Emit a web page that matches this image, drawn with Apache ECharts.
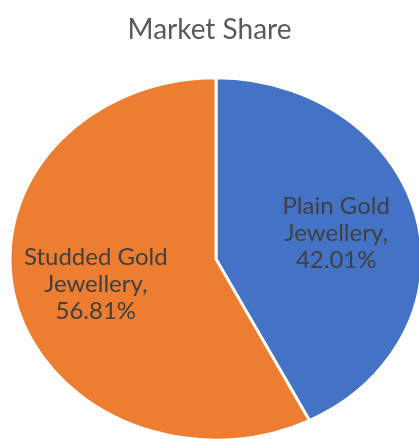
<!DOCTYPE html>
<html>
<head>
<meta charset="utf-8">
<script src="https://cdn.jsdelivr.net/npm/echarts@6/dist/echarts.min.js"></script>
<style>
  html, body { margin: 0; padding: 0; background: #ffffff; }
  #chart { width: 419px; height: 439px; }
</style>
</head>
<body>
<div id="chart"></div>
<script>
// Market share of gold jewellery segments (percent)
const categories = ['Plain Gold Jewellery', 'Studded Gold Jewellery'];
const labelNames = [['Plain Gold', 'Jewellery,'], ['Studded Gold', 'Jewellery,']];
const shares = [42.01, 56.81];
const sliceColors = ['#4472C4', '#ED7D31'];

const total = shares.reduce((a, b) => a + b, 0);

// Elliptical pie: drawn as a circle of radius RX squashed vertically to RY
const CX = 216, CY = 259, RX = 206, RY = 181;
const LABEL_FRACTION = 0.6;

function renderSlice(params, api) {
  const i = params.dataIndex;
  let before = 0;
  for (let k = 0; k < i; k++) before += shares[k];
  const v = api.value(0);
  const a0 = -Math.PI / 2 + (before / total) * Math.PI * 2;
  const a1 = a0 + (v / total) * Math.PI * 2;
  const mid = (a0 + a1) / 2;
  const lx = CX + Math.cos(mid) * RX * LABEL_FRACTION;
  const ly = CY + Math.sin(mid) * RY * LABEL_FRACTION;
  const text = labelNames[i].join('\n') + '\n' + v.toFixed(2) + '%';
  return {
    type: 'group',
    children: [
      {
        type: 'sector',
        shape: { cx: CX, cy: CY, r: RX, r0: 0, startAngle: a0, endAngle: a1, clockwise: true },
        originX: CX,
        originY: CY,
        scaleY: RY / RX,
        style: { fill: sliceColors[i], stroke: '#ffffff', lineWidth: 3 }
      },
      {
        type: 'text',
        x: lx,
        y: ly,
        style: {
          text: text,
          fill: '#404040',
          fontSize: 24,
          fontFamily: 'Lato',
          lineHeight: 27,
          align: 'center',
          verticalAlign: 'middle'
        }
      }
    ]
  };
}

const chart = echarts.init(document.getElementById('chart'), null, { renderer: 'canvas' });
chart.setOption({
  animation: false,
  backgroundColor: '#ffffff',
  title: {
    text: 'Market Share',
    left: 'center',
    top: 11,
    textStyle: { fontSize: 28, fontWeight: 'normal', color: '#595959', fontFamily: 'Lato' }
  },
  series: [{
    type: 'custom',
    coordinateSystem: 'none',
    renderItem: renderSlice,
    data: shares.map((v, i) => ({ name: categories[i], value: [v] }))
  }]
});
</script>
</body>
</html>
